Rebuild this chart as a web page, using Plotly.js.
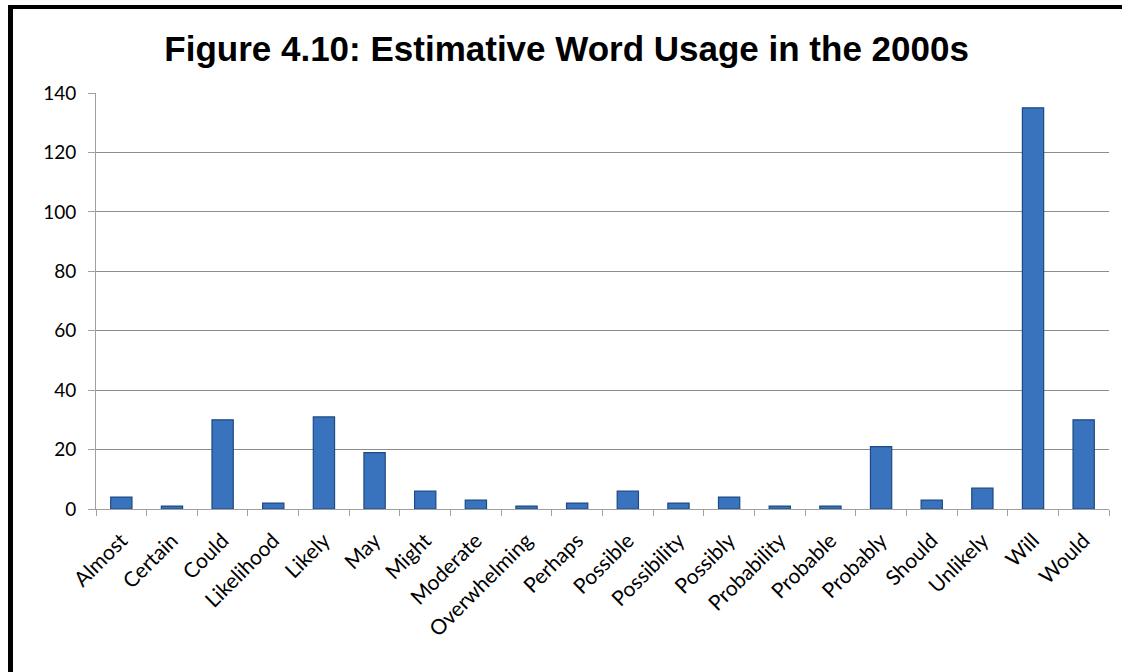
<!DOCTYPE html>
<html>
<head>
<meta charset="utf-8">
<script src="https://cdn.plot.ly/plotly-3.0.1.min.js"></script>
<style>
  html, body { margin: 0; padding: 0; background: #fff; }
  #wrap { position: relative; width: 1122px; height: 672px; overflow: hidden; }
  #chart { width: 1122px; height: 672px; }
  #frame { position: absolute; left: 8px; top: 5px; width: 1200px; height: 800px;
           border-left: 5px solid #000; border-top: 4px solid #000; pointer-events: none; }
</style>
</head>
<body>
<div id="wrap">
  <div id="chart"></div>
  <div id="frame"></div>
</div>
<script>
const categories = ["Almost", "Certain", "Could", "Likelihood", "Likely", "May", "Might",
  "Moderate", "Overwhelming", "Perhaps", "Possible", "Possibility", "Possibly",
  "Probability", "Probable", "Probably", "Should", "Unlikely", "Will", "Would"];
const usageCounts = [4, 1, 30, 2, 31, 19, 6, 3, 1, 2, 6, 2, 4, 1, 1, 21, 3, 7, 135, 30];
const yTickValues = [0, 20, 40, 60, 80, 100, 120, 140];
const chartTitle = "Figure 4.10: Estimative Word Usage in the 2000s";

const trace = {
  type: "bar",
  x: categories,
  y: usageCounts,
  marker: {
    color: "#3a73bd",
    line: { color: "#1d4a82", width: 1.2 }
  },
  hoverinfo: "x+y"
};

const layout = {
  width: 1122,
  height: 672,
  margin: { l: 96, r: 13, t: 93, b: 163 },
  paper_bgcolor: "#ffffff",
  plot_bgcolor: "#ffffff",
  showlegend: false,
  bargap: 0.58,
  title: {
    text: "<b>" + chartTitle + "</b>",
    font: { family: "Liberation Sans, Arial, sans-serif", size: 35, color: "#000" },
    x: 0.505, xanchor: "center",
    y: 0.928, yanchor: "middle"
  },
  xaxis: {
    type: "category",
    tickangle: -45,
    tickfont: { family: "Lato, 'Open Sans', sans-serif", size: 21, color: "#000" },
    ticks: "outside",
    tickson: "boundaries",
    ticklen: 6,
    tickcolor: "#a0a0a0",
    showline: true,
    linecolor: "#a0a0a0",
    linewidth: 1,
    showgrid: false,
    ticklabelstandoff: 10
  },
  yaxis: {
    range: [0, 140],
    tickvals: yTickValues,
    ticktext: yTickValues.map(String),
    tickfont: { family: "Lato, 'Open Sans', sans-serif", size: 19, color: "#000" },
    ticks: "outside",
    ticklen: 7,
    tickcolor: "#a0a0a0",
    showline: true,
    linecolor: "#a0a0a0",
    linewidth: 1,
    showgrid: true,
    gridcolor: "#8c8c8c",
    gridwidth: 1,
    zeroline: false,
    ticklabelstandoff: 8
  }
};

Plotly.newPlot("chart", [trace], layout, { displayModeBar: false, staticPlot: true });
</script>
</body>
</html>
